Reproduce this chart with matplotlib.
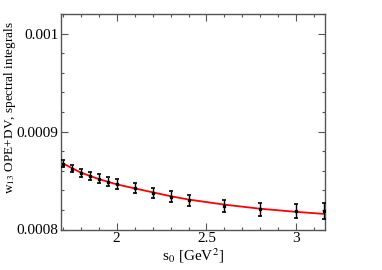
import numpy as np
import matplotlib
matplotlib.use('Agg')
import matplotlib.pyplot as plt
from matplotlib.ticker import MultipleLocator

plt.rcParams['font.family'] = ['Liberation Serif', 'DejaVu Serif']
plt.rcParams['mathtext.fontset'] = 'stix'

# spectral integrals (points with errors)
s0 = [1.7, 1.75, 1.8, 1.85, 1.9, 1.95, 2.0, 2.1, 2.2, 2.3, 2.4, 2.6, 2.8, 3.0, 3.157]
w13 = [0.0008673, 0.0008622, 0.0008580, 0.0008546, 0.0008518, 0.0008488, 0.0008464,
       0.0008420, 0.0008376, 0.0008335, 0.0008301, 0.0008240, 0.0008208, 0.0008188, 0.0008190]
w13_err = [0.0000037, 0.0000040, 0.0000042, 0.0000044, 0.0000045, 0.0000046, 0.0000047,
           0.0000050, 0.0000052, 0.0000054, 0.0000056, 0.0000062, 0.0000066, 0.0000070, 0.0000078]

# OPE+DV fit curve
s0_fit = [1.7, 1.8, 1.9, 2.0, 2.1, 2.2, 2.3, 2.4, 2.6, 2.8, 3.0, 3.157]
w13_fit = [0.0008675, 0.0008581, 0.0008515, 0.0008461, 0.0008420, 0.0008380, 0.0008340,
           0.0008306, 0.0008254, 0.0008212, 0.0008180, 0.0008159]

ytick_vals = [0.0008, 0.0009, 0.001]
ytick_labels = ['0.0008', '0.0009', '0.001']
xtick_vals = [2, 2.5, 3]
xtick_labels = ['2', '2.5', '3']

fig = plt.figure(figsize=(3.82, 2.70), dpi=100)
ax = fig.add_axes([61/382, 1 - 229.5/270, (325-61)/382, (229.5-14)/270])

ax.plot(s0_fit, w13_fit, color='red', lw=1.3, zorder=2)
ax.errorbar(s0, w13, yerr=w13_err, fmt='s', ms=1.8, color='black', ecolor='black',
            elinewidth=1.0, capsize=1.5, capthick=1.2, zorder=3)

ax.set_xlim(1.69, 3.16)
ax.set_ylim(0.0008, 0.00102)
ax.set_yticks(ytick_vals)
ax.set_yticklabels(ytick_labels)
ax.set_xticks(xtick_vals)
ax.set_xticklabels(xtick_labels)
ax.xaxis.set_minor_locator(MultipleLocator(0.1))
ax.yaxis.set_minor_locator(MultipleLocator(0.00002))
ax.tick_params(which='both', direction='in', top=True, right=True, color='#555555', labelsize=11, pad=2)
ax.tick_params(which='major', length=5, width=0.8)
ax.tick_params(which='minor', length=2.5, width=0.8)
for sp in ax.spines.values():
    sp.set_color('#555555')
    sp.set_linewidth(1.0)

ax.set_xlabel('s$_0$ [GeV$^2$]', fontsize=11, labelpad=1)
ax.set_ylabel('w$_{13}$ OPE+DV, spectral integrals', fontsize=9.5)
ax.yaxis.set_label_coords(-0.163, 0.564)

fig.savefig('out.png', dpi=100)
